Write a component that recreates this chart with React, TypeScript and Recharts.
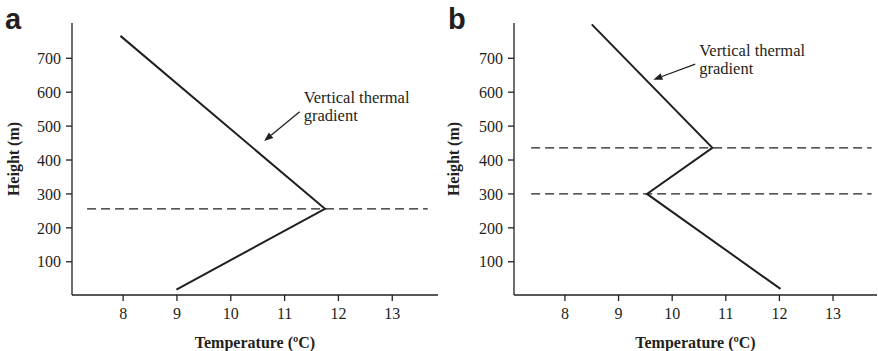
import * as React from "react";
import { Line, LineChart, ReferenceLine, XAxis, YAxis } from "recharts";

const SERIF = '"Liberation Serif", "Times New Roman", serif';
const INK = "#231f20";

// panel a: single inversion
const TEMP_A = [7.95, 11.75, 8.99];
const HEIGHT_A = [766, 256, 18];
const LAYERS_A = [256];
const LAYER_SPAN_A = [7.33, 13.66];
const ARROW_A = [{ x: 11.28, y: 542 }, { x: 10.62, y: 456 }];

// panel b: elevated inversion layer
const TEMP_B = [8.5, 10.75, 9.53, 12.02];
const HEIGHT_B = [800, 436, 300, 20];
const LAYERS_B = [436, 300];
const LAYER_SPAN_B = [7.37, 13.72];
const ARROW_B = [{ x: 10.43, y: 683 }, { x: 9.65, y: 637 }];

const X_TICKS = [8, 9, 10, 11, 12, 13];
const Y_TICKS = [100, 200, 300, 400, 500, 600, 700];
const NOTE = ["Vertical thermal", "gradient"];

const serifText = { fontFamily: SERIF };

function XTick(p: any) {
  return (
    <text x={p.x} y={p.y} dy="0.71em" textAnchor="middle" style={serifText} fontSize={16} fill={INK}>
      {p.payload.value}
    </text>
  );
}

function YTick(p: any) {
  return (
    <text x={p.x} y={p.y} dy="0.355em" textAnchor="end" style={serifText} fontSize={16} fill={INK}>
      {p.payload.value}
    </text>
  );
}

function Arrow(p: any) {
  const { x1, y1, x2, y2 } = p;
  const dx = x2 - x1, dy = y2 - y1;
  const len = Math.hypot(dx, dy) || 1;
  const ux = dx / len, uy = dy / len;
  const hl = 9, hw = 3.5;
  const bx = x2 - ux * hl, by = y2 - uy * hl;
  return (
    <g>
      <line x1={x1} y1={y1} x2={bx} y2={by} stroke={INK} strokeWidth={1.3} />
      <polygon
        points={`${x2},${y2} ${bx - uy * hw},${by + ux * hw} ${bx + uy * hw},${by - ux * hw}`}
        fill={INK}
      />
      <text x={x1 + 4} y={y1 - 8.5} style={serifText} fontSize={16.5} fill={INK}>{NOTE[0]}</text>
      <text x={x1 + 4} y={y1 + 9.5} style={serifText} fontSize={16.5} fill={INK}>{NOTE[1]}</text>
    </g>
  );
}

function Panel({ temps, heights, layers, span, arrow, width, yWidth, right, xMax }: any) {
  const data = temps.map((t: number, i: number) => ({ t, h: heights[i] }));
  return (
    <LineChart width={width} height={351} data={data} margin={{ top: 23, right, bottom: 0, left: 0 }}>
      <XAxis
        type="number" dataKey="t" domain={[7.05, xMax]} ticks={X_TICKS} allowDataOverflow
        height={56} tickSize={6} tickMargin={7} stroke={INK} strokeWidth={1.3} tick={XTick}
        label={(p: any) => {
          const vb = p.viewBox;
          return (
            <text x={vb.x + vb.width / 2} y={347.5} textAnchor="middle" style={serifText}
              fontSize={16} fontWeight="bold" fill={INK}>Temperature (ºC)</text>
          );
        }}
      />
      <YAxis
        type="number" domain={[2, 804]} ticks={Y_TICKS} allowDataOverflow
        width={yWidth} tickSize={6} tickMargin={5} stroke={INK} strokeWidth={1.3} tick={YTick}
        label={(p: any) => {
          const vb = p.viewBox;
          const cy = vb.y + vb.height / 2;
          return (
            <text x={19} y={cy} transform={`rotate(-90 19 ${cy})`} textAnchor="middle"
              style={serifText} fontSize={16} fontWeight="bold" fill={INK}>Height (m)</text>
          );
        }}
      />
      {layers.map((h: number) => (
        <ReferenceLine
          key={h}
          segment={[{ x: span[0], y: h }, { x: span[1], y: h }]}
          stroke={INK} strokeWidth={1.25} strokeDasharray="9 5"
        />
      ))}
      <ReferenceLine segment={arrow} shape={Arrow} />
      <Line
        type="linear" dataKey="h" stroke={INK} strokeWidth={2} dot={false}
        activeDot={false} isAnimationActive={false}
      />
    </LineChart>
  );
}

const panelTag: React.CSSProperties = {
  position: "absolute", top: 4.5, fontFamily: '"Liberation Sans", Arial, sans-serif',
  fontWeight: "bold", fontSize: 29, lineHeight: "29px", color: INK,
};

export default function App() {
  return (
    <div style={{ position: "absolute", left: 0, top: 0, width: 878, height: 351, background: "#fff" }}>
      <div style={{ position: "absolute", left: 0, top: 0 }}>
        <Panel temps={TEMP_A} heights={HEIGHT_A} layers={LAYERS_A} span={LAYER_SPAN_A}
          arrow={ARROW_A} width={440} yWidth={72} right={2} xMax={13.85} />
      </div>
      <div style={{ position: "absolute", left: 440, top: 0 }}>
        <Panel temps={TEMP_B} heights={HEIGHT_B} layers={LAYERS_B} span={LAYER_SPAN_B}
          arrow={ARROW_B} width={438} yWidth={74} right={1} xMax={13.82} />
      </div>
      <div style={{ ...panelTag, left: 5 }}>a</div>
      <div style={{ ...panelTag, left: 448 }}>b</div>
    </div>
  );
}
